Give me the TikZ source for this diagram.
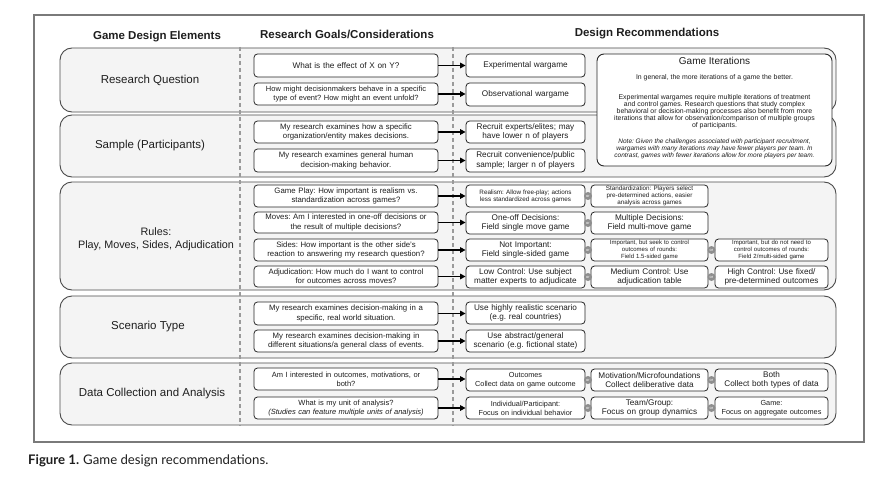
\documentclass[tikz,border=0pt]{standalone}
\usepackage{fontspec}
\setmainfont{Liberation Sans}
\newfontfamily\capfont{Lato}
\usetikzlibrary{arrows.meta,calc}

\definecolor{panelfill}{HTML}{F4F4F4}
\definecolor{panelline}{HTML}{4A4A4A}
\definecolor{dashcol}{HTML}{9A9A9A}
\definecolor{orfill}{HTML}{8E8E8E}
\definecolor{txt}{HTML}{1E1E1E}
\definecolor{framecol}{HTML}{7A7A7A}

\tikzset{
  panel/.style={draw=panelline, fill=panelfill, line width=0.9pt, rounded corners=12pt},
  rbox/.style={draw=black!85, fill=white, line width=0.8pt, rounded corners=3.5pt,
               inner sep=0pt, align=center, text=txt},
  fA/.style={font=\fontsize{8.2}{9.4}\selectfont},
  fM/.style={font=\fontsize{7.8}{9.2}\selectfont},
  fL/.style={font=\fontsize{7.5}{9.0}\selectfont},
  fD/.style={font=\fontsize{7.3}{8.8}\selectfont},
  fS/.style={font=\fontsize{6.3}{7.0}\selectfont},
  fT/.style={font=\fontsize{6.0}{6.9}\selectfont},
  arr/.style={line width=1.4pt, -{Triangle[length=5.5pt,width=5.5pt]}},
  orc/.style={circle, fill=orfill, inner sep=0pt, minimum size=8pt, text=white,
              font=\fontsize{4}{4}\selectfont},
  sepline/.style={dashcol, line width=1.1pt, dash pattern=on 4pt off 3pt},
  lbl/.style={font=\fontsize{11.5}{13}\selectfont, align=center, text=txt},
  hdr/.style={font=\bfseries\fontsize{11.5}{13}\selectfont, text=txt},
  gtxt/.style={font=\fontsize{6.9}{7.1}\selectfont, align=center, text=txt},
}

% \mybox{name}{x1}{y1}{x2}{y2}{font style}{text}
\newcommand{\mybox}[7]{%
  \pgfmathsetmacro{\myW}{#4-#2}\pgfmathsetmacro{\myH}{#5-#3}%
  \pgfmathsetmacro{\myX}{(#2+#4)/2}\pgfmathsetmacro{\myY}{(#3+#5)/2}%
  \pgfmathsetmacro{\myT}{#4-#2-3}%
  \node[rbox,#6,minimum width=\myW pt,minimum height=\myH pt,text width=\myT pt]
    (#1) at (\myX,\myY) {#7};}
% arrow from a question to its recommendation
\newcommand{\link}[2]{\draw[arr] (#1.east) -- (#1.east -| #2.west);}
% grey "or" marker between two neighbouring boxes
\newcommand{\orat}[3]{\node[orc] (#1) at ($(#2.east)!0.5!(#3.west)$) {or};}

\begin{document}
\frenchspacing
\begin{tikzpicture}[x=1pt,y=-1pt]
\useasboundingbox (0,0) rectangle (874,492);

% outer frame
\draw[framecol, line width=1.3pt] (34,15) rectangle (864,442);

% headers
\node[hdr] (h1) at (157,36.5) {Game Design Elements};
\node[hdr] (h2) at (347,34.5) {Research Goals/Considerations};
\node[hdr] (h3) at (647,33.5) {Design Recommendations};

% row panels
\draw[panel] (60,48) rectangle (836,112);
\draw[panel] (60,115) rectangle (836,177);
\draw[panel] (60,182) rectangle (836,290);
\draw[panel] (60,296) rectangle (836,358);
\draw[panel] (60,363) rectangle (836,425);

% column separators
\draw[sepline] (240,47) -- (240,426);
\draw[sepline] (453,47) -- (453,426);

% panel labels
\node[lbl] (lrq) at (150,80) {Research Question};
\node[lbl] (lsm) at (150,146) {Sample (Participants)};
\node[lbl, font=\fontsize{10.8}{13}\selectfont] (lru) at (156,239.5) {Rules:\\Play, Moves, Sides, Adjudication};
\node[lbl] (lsc) at (148,327) {Scenario Type};
\node[lbl] (ldc) at (152,394) {Data Collection and Analysis};

% research question
\mybox{rqa}{254}{54}{438}{77}{fA}{What is the effect of X on Y?}
\mybox{rqb}{254}{83}{438}{105}{fL}{How might decisionmakers behave in a specific\\type of event? How might an event unfold?}
\mybox{exp}{466}{54}{585}{77}{fA}{Experimental wargame}
\mybox{obs}{466}{83}{585}{106}{fA}{Observational wargame}

% sample
\mybox{sma}{254}{121}{438}{143}{fM}{My research examines how a specific\\organization/entity makes decisions.}
\mybox{smb}{254}{149}{438}{172}{fM}{My research examines general human\\decision-making behavior.}
\mybox{rca}{466}{121}{585}{143}{fA}{Recruit experts/elites; may\\have lower n of players}
\mybox{rcb}{466}{149}{585}{172}{fA}{Recruit convenience/public\\sample; larger n of players}

% rules
\mybox{rua}{254}{185}{438}{207}{fM}{Game Play: How important is realism vs.\\standardization across games?}
\mybox{rub}{254}{212}{438}{233}{fM}{Moves: Am I interested in one-off decisions or\\the result of multiple decisions?}
\mybox{ruc}{254}{239}{438}{261}{fM}{Sides: How important is the other side's\\reaction to answering my research question?}
\mybox{rud}{254}{266}{438}{287}{fM}{Adjudication: How much do I want to control\\for outcomes across moves?}
\mybox{gpa}{466}{185}{585}{207}{fS}{Realism: Allow free-play; actions\\less standardized across games}
\mybox{gpb}{591}{185}{708}{207}{fS}{Standardization: Players select\\pre-determined actions, easier\\analysis across games}
\mybox{mva}{466}{212}{585}{234}{fA}{One-off Decisions:\\Field single move game}
\mybox{mvb}{591}{212}{708}{234}{fA}{Multiple Decisions:\\Field multi-move game}
\mybox{sda}{466}{239}{585}{261}{fA}{Not Important:\\Field single-sided game}
\mybox{sdb}{591}{239}{708}{261}{fT}{Important, but seek to control\\outcomes of rounds:\\Field 1.5-sided game}
\mybox{sdc}{715}{239}{828}{261}{fT}{Important, but do not need to\\control outcomes of rounds:\\Field 2/multi-sided game}
\mybox{aja}{466}{266}{585}{288}{fA}{Low Control: Use subject\\matter experts to adjudicate}
\mybox{ajb}{591}{266}{708}{288}{fA}{Medium Control: Use\\adjudication table}
\mybox{ajc}{715}{266}{828}{288}{fA}{High Control: Use fixed/\\pre-determined outcomes}

% scenario
\mybox{sca}{254}{302}{438}{325}{fM}{My research examines decision-making in a\\specific, real world situation.}
\mybox{scb}{254}{330}{438}{352}{fM}{My research examines decision-making in\\different situations/a general class of events.}
\mybox{ura}{466}{302}{585}{324}{fA}{Use highly realistic scenario\\(e.g. real countries)}
\mybox{urb}{466}{330}{585}{352}{fA}{Use abstract/general\\scenario (e.g. fictional state)}

% data collection
\mybox{dca}{254}{368}{438}{390}{fL}{Am I interested in outcomes, motivations, or\\both?}
\mybox{dcb}{254}{397}{438}{419}{fL}{What is my unit of analysis?\\\textit{(Studies can feature multiple units of analysis)}}
\mybox{dta}{466}{369}{585}{391}{fD}{Outcomes\\Collect data on game outcome}
\mybox{dtb}{591}{369}{708}{391}{fA}{Motivation/Microfoundations\\Collect deliberative data}
\mybox{dtc}{715}{369}{828}{391}{fA}{Both\\Collect both types of data}
\mybox{uta}{466}{397}{585}{419}{fD}{Individual/Participant:\\Focus on individual behavior}
\mybox{utb}{591}{397}{708}{419}{fA}{Team/Group:\\Focus on group dynamics}
\mybox{utc}{715}{397}{828}{419}{fD}{Game:\\Focus on aggregate outcomes}

% arrows
\link{rqa}{exp}
\link{rqb}{obs}
\link{sma}{rca}
\link{smb}{rcb}
\link{rua}{gpa}
\link{rub}{mva}
\link{ruc}{sda}
\link{rud}{aja}
\link{sca}{ura}
\link{scb}{urb}
\link{dca}{dta}
\link{dcb}{uta}

% alternatives
\orat{or1}{gpa}{gpb}
\orat{or2}{mva}{mvb}
\orat{or3}{sda}{sdb}
\orat{or4}{sdb}{sdc}
\orat{or5}{aja}{ajb}
\orat{or6}{ajb}{ajc}
\orat{or7}{dta}{dtb}
\orat{or8}{dtb}{dtc}
\orat{or9}{uta}{utb}
\orat{or10}{utb}{utc}

% game iterations note
\node[draw=black!85, fill=white, line width=0.9pt, rounded corners=7pt,
      minimum width=235pt, minimum height=112pt, inner sep=0pt] (gi) at (714.5,110) {};
\node[font=\fontsize{10}{12}\selectfont, text=txt] (git) at (714.5,61) {Game Iterations};
\node[gtxt] (gi1) at (714.5,78) {In general, the more iterations of a game the better.};
\node[gtxt] (gi2) at (714.5,112) {Experimental wargames require multiple iterations of treatment\\
  and control games. Research questions that study complex\\
  behavioral or decision-making processes also benefit from more\\
  iterations that allow for observation/comparison of multiple groups\\
  of participants.};
\node[gtxt, font=\itshape\fontsize{6.5}{7.1}\selectfont] (gi3) at (714.5,149)
  {Note: Given the challenges associated with participant recruitment,\\
  wargames with many iterations may have fewer players per team. In\\
  contrast, games with fewer iterations allow for more players per team.};

% caption
\node[anchor=west, font=\capfont\fontsize{13.2}{15}\selectfont, text=txt, inner sep=0pt] (cap)
  at (28,460.5) {\textbf{Figure 1.}\hspace{4pt}Game design recommendations.};
\end{tikzpicture}
\end{document}
